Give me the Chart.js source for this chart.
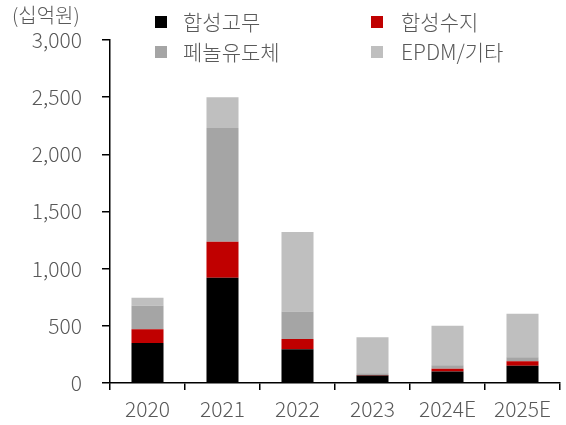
<!DOCTYPE html>
<html><head><meta charset="utf-8">
<script src="https://cdn.jsdelivr.net/npm/chart.js@4"></script>
<style>html,body{margin:0;padding:0;background:#fff;}#wrap{width:566px;height:425px;}</style>
</head><body><div id="wrap"><canvas id="c" width="566" height="425"></canvas></div>
<script>
const categories = ['2020','2021','2022','2023','2024E','2025E'];
const rubber   = [350, 920, 295, 65, 100, 150];   // 합성고무
const resin    = [120, 315,  90,  5,  25,  40];   // 합성수지
const phenol   = [205, 995, 240, 15,  30,  35];   // 페놀유도체
const epdm     = [ 70, 270, 695, 315, 345, 380];  // EPDM/기타
const seriesNames = ['합성고무','합성수지','페놀유도체','EPDM/기타'];
const seriesColors = ['#000000','#C00000','#A5A5A5','#BFBFBF'];
const unitLabel = '(십억원)';
const yMax = 3000, yStep = 500;

const FONT = '"Noto Sans CJK KR", "Noto Sans", sans-serif';
const TXT = '#595959';
const WEIGHT = '300';

const legendPlugin = {
  id: 'customLegend',
  afterDraw(chart) {
    const ctx = chart.ctx;
    ctx.save();
    ctx.textBaseline = 'middle';
    ctx.fillStyle = TXT;
    ctx.font = WEIGHT + ' 20px ' + FONT;
    ctx.textAlign = 'left';
    ctx.fillText(unitLabel, 12, 15);
    ctx.font = WEIGHT + ' 21px ' + FONT;
    const cols = [155, 371], textCols = [183, 401], rows = [22, 52];
    chart.data.datasets.forEach((ds, i) => {
      const c = i % 2, y = rows[Math.floor(i / 2)];
      ctx.fillStyle = ds.backgroundColor;
      ctx.fillRect(cols[c], y - 6, 12, 12);
      ctx.fillStyle = TXT;
      ctx.fillText(ds.label, textCols[c], y);
    });
    ctx.restore();
  }
};

const mk = (i, data) => ({
  label: seriesNames[i], data, backgroundColor: seriesColors[i], borderWidth: 0,
  barPercentage: 0.427, categoryPercentage: 1
});

new Chart(document.getElementById('c'), {
  type: 'bar',
  data: {
    labels: categories,
    datasets: [mk(0, rubber), mk(1, resin), mk(2, phenol), mk(3, epdm)]
  },
  options: {
    responsive: false, animation: false, devicePixelRatio: 1,
    layout: { padding: { top: 40, right: 6, left: 0, bottom: 0 } },
    plugins: { legend: { display: false }, tooltip: { enabled: false } },
    scales: {
      x: {
        stacked: true,
        grid: { display: true, drawOnChartArea: false, drawTicks: true, tickLength: 7, color: '#000', lineWidth: 1.5 },
        border: { display: true, color: '#000', width: 1.5 },
        ticks: { color: TXT, font: { family: FONT, size: 21, weight: WEIGHT }, padding: 6, maxRotation: 0 },
        afterFit(s) { s.height = 42; }
      },
      y: {
        stacked: true, min: 0, max: yMax,
        grid: { display: true, drawOnChartArea: false, drawTicks: true, tickLength: 8, color: '#000', lineWidth: 1.5 },
        border: { display: true, color: '#000', width: 1.5 },
        ticks: { stepSize: yStep, color: TXT, font: { family: FONT, size: 21, weight: WEIGHT }, padding: 20,
          callback: v => v.toLocaleString('en-US') },
        afterFit(s) { s.width = 110; }
      }
    }
  },
  plugins: [legendPlugin]
});
</script>
</body></html>
